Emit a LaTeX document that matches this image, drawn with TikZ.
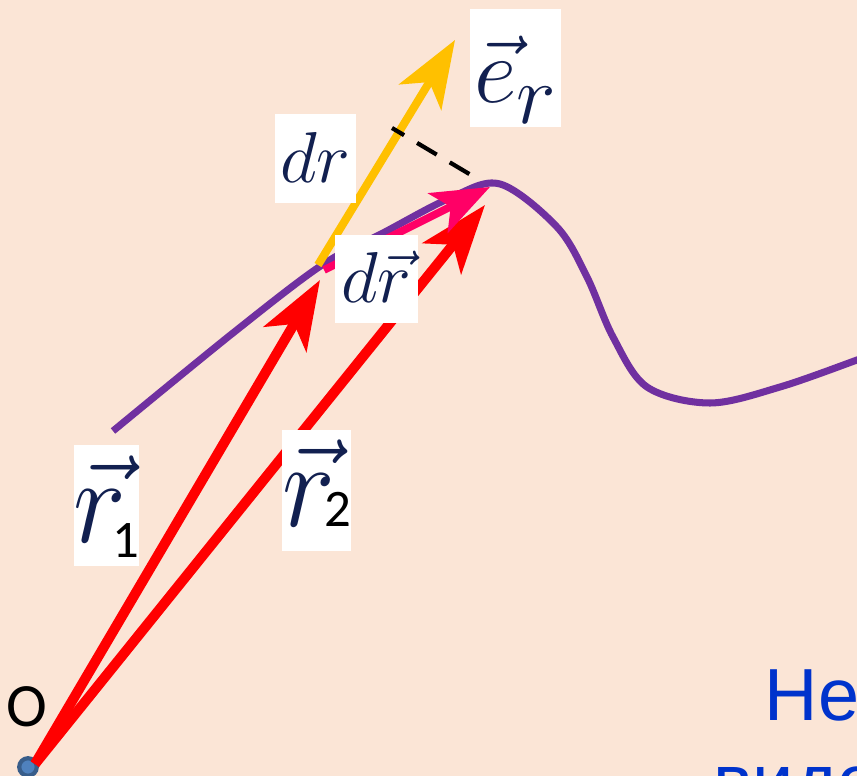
\RequirePackage{fix-cm}
\documentclass[tikz,border=0pt]{standalone}
\usepackage{fontspec}
\usepackage{graphicx}
\usetikzlibrary{arrows.meta}

\newfontfamily\slidefont{Liberation Sans}
\newfontfamily\labelfont{Carlito}

\definecolor{slidebg}{HTML}{FBE5D6}
\definecolor{curvepurple}{HTML}{7030A0}
\definecolor{vecred}{HTML}{FF0000}
\definecolor{vecpink}{HTML}{FF0066}
\definecolor{vecyellow}{HTML}{FFC000}
\definecolor{mathnavy}{RGB}{18,32,80}
\definecolor{textblue}{HTML}{0033CC}
\definecolor{dotblue}{RGB}{79,129,189}
\definecolor{dotedge}{RGB}{56,93,138}

\begin{document}
\begin{tikzpicture}[x=0.01cm, y=-0.01cm,
  vec/.style={line width=2.85pt,
    -{Stealth[length=19.5pt, width=14pt, inset=5pt]}},
  lbl/.style={fill=white, inner sep=0pt, anchor=base, text=mathnavy}]

% --- Slide background ---
\useasboundingbox (0,0) rectangle (857,776);
\fill[slidebg] (0,0) rectangle (857,776);
\clip (0,0) rectangle (857,776);

% --- Trajectory ---
\draw[curvepurple, line width=2pt] plot[smooth, tension=0.55] coordinates
  {(113,431) (233,333) (322,265) (383,233) (450,198) (500,184)
   (557,227) (587,277) (613,337) (647,387) (710,403) (780,387)
   (857,360) (880,351)};

% --- Origin and end points ---
\node[circle, fill=dotblue, draw=dotedge, line width=1.2pt,
  minimum size=5pt, inner sep=0pt] (o) at (28,767) {};
\coordinate (O) at (35,764);
\coordinate (r1tip) at (320,280);
\coordinate (r2tip) at (485,205);
\coordinate (drbase) at (324,270);
\coordinate (drtip) at (490,187);
\coordinate (erbase) at (318,265);
\coordinate (ertip) at (455,40);
\coordinate (dashA) at (392,128);
\coordinate (dashB) at (471,175);

% --- Position vectors ---
\draw[vec, vecred] (O) -- (r1tip);
\draw[vec, vecred] (O) -- (r2tip);

% --- Displacement and unit vector ---
\draw[vecpink, line width=2.2pt,
  -{Stealth[length=16.5pt, width=12.5pt, inset=4pt]}] (drbase) -- (drtip);
\draw[vecyellow, line width=2.3pt,
  -{Stealth[length=19pt, width=14pt, inset=5pt]}] (erbase) -- (ertip);
\draw[black, line width=1.2pt, dash pattern=on 6.5pt off 4.3pt,
  dash phase=2.5pt] (dashA) -- (dashB);

% --- Labels ---
\node[lbl, minimum width=23pt, text height=19.6pt, text depth=5.7pt,
  font=\fontsize{20.5}{20.5}\selectfont] (dr) at (315.5,183) {$dr$};
\node[lbl, minimum width=23.6pt, text height=19.3pt, text depth=5.7pt,
  font=\fontsize{20.5}{20.5}\selectfont] (drvec) at (376.5,303)
  {$d\vec{r}$};
\node[lbl, minimum width=25.9pt, text height=26.7pt, text depth=6.8pt,
  font=\fontsize{26.5}{26.5}\selectfont] (er) at (515.5,103)
  {$\vec{e}$\raisebox{-5.7pt}{\fontsize{24}{24}\selectfont$r$}};
\node[lbl, minimum width=15.1pt, text height=27.6pt, text depth=6.8pt,
  font=\fontsize{32}{32}\selectfont] (r1) at (106.5,542)
  {\scalebox{1}[1.08]{$\vec{r}$}\kern-4pt\raisebox{-4.5pt}{\labelfont\fontsize{15}{15}\selectfont\color{black}1}};
\node[lbl, minimum width=15.1pt, text height=27.6pt, text depth=6.8pt,
  font=\fontsize{32}{32}\selectfont] (r2) at (316.5,527)
  {\scalebox{1}[1.08]{$\vec{r}$}\kern-3pt{\labelfont\fontsize{15}{15}\selectfont\color{black}2}};

% --- Slide text ---
\node[font=\labelfont\fontsize{17.5}{17.5}\selectfont] (Olbl) at (27,707) {O};
\node[anchor=base west, inner sep=0pt, text=textblue,
  font=\slidefont\fontsize{21}{21}\selectfont] (line1) at (764,720) {Не};
\node[anchor=base west, inner sep=0pt, text=textblue,
  font=\slidefont\fontsize{21}{21}\selectfont] (line2) at (713,806) {видо};

\end{tikzpicture}
\end{document}
